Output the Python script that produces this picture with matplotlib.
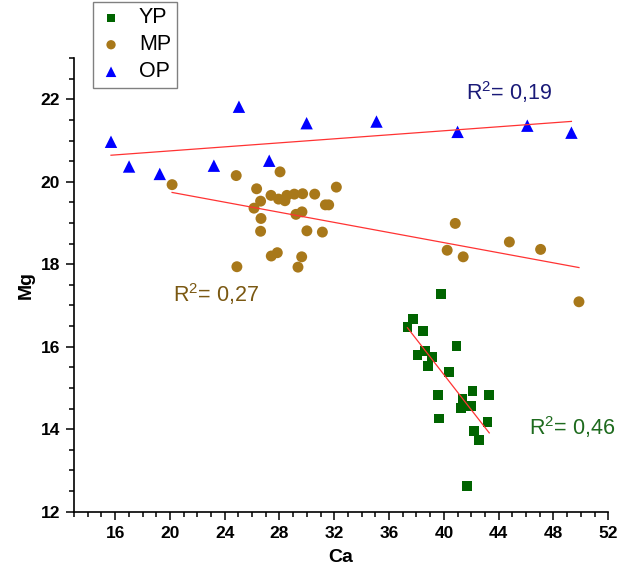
import numpy as np
import matplotlib.pyplot as plt
from matplotlib.ticker import MultipleLocator

plt.rcParams['font.family'] = ['Liberation Sans', 'DejaVu Sans']
plt.rcParams['mathtext.fontset'] = 'custom'
plt.rcParams['mathtext.rm'] = 'Liberation Sans'

# YP
yp_ca = [39.8, 37.73, 37.34, 38.49, 40.92, 38.08, 38.64, 39.15, 38.83, 40.39, 39.55,
         42.09, 43.31, 41.36, 42.0, 41.27, 39.62, 43.19, 42.17, 42.56, 41.66]
yp_mg = [17.28, 16.68, 16.47, 16.38, 16.01, 15.79, 15.90, 15.76, 15.53, 15.38, 14.82,
         14.93, 14.82, 14.74, 14.56, 14.51, 14.26, 14.18, 13.96, 13.74, 12.63]

# MP
mp_ca = [20.16, 24.84, 28.04, 26.33, 27.38, 26.62, 26.14, 27.93, 28.4, 28.54, 29.08,
         29.69, 30.57, 32.15, 31.35, 31.59, 29.2, 29.64, 26.65, 26.62, 30.0, 31.13,
         27.4, 27.84, 29.62, 29.35, 24.89,
         40.83, 40.24, 41.41, 44.78, 47.06, 49.86]
mp_mg = [19.93, 20.15, 20.24, 19.83, 19.67, 19.53, 19.36, 19.58, 19.54, 19.67, 19.70,
         19.71, 19.70, 19.87, 19.44, 19.44, 19.21, 19.27, 19.11, 18.80, 18.81, 18.78,
         18.20, 18.28, 18.18, 17.93, 17.94,
         18.99, 18.34, 18.18, 18.54, 18.36, 17.09]

# OP
op_ca = [15.70, 17.02, 19.26, 25.04, 23.21, 27.25, 29.98, 35.08, 41.0, 46.09, 49.31]
op_mg = [20.97, 20.37, 20.19, 21.82, 20.39, 20.51, 21.42, 21.46, 21.21, 21.36, 21.19]

r2_values = ['0,46', '0,27', '0,19']

fig = plt.figure(figsize=(6.24, 5.69), dpi=100)
ax = fig.add_axes([0.1186, 0.1007, 0.8562, 0.7973])

ax.scatter(yp_ca, yp_mg, marker='s', s=50, color='#006400', edgecolors='none', label='YP', zorder=2)
ax.scatter(mp_ca, mp_mg, marker='o', s=62, color='#a8781a', edgecolors='none', label='MP', zorder=2)
ax.scatter(op_ca, op_mg, marker='^', s=80, color='#0000ff', edgecolors='none', label='OP', zorder=2)

# linear fits
for xs, ys in [(yp_ca, yp_mg), (mp_ca, mp_mg), (op_ca, op_mg)]:
    k, b = np.polyfit(xs, ys, 1)
    xx = np.array([min(xs), max(xs)])
    ax.plot(xx, k * xx + b, color='#ff3333', lw=0.9, zorder=3)

def r2(v):
    return r'R$^\mathregular{2}$= ' + v

ax.text(46.21, 13.86, r2(r2_values[0]), color='#1e6b1e', fontsize=15.5)
ax.text(20.21, 17.09, r2(r2_values[1]), color='#7a5812', fontsize=15.5)
ax.text(41.63, 21.98, r2(r2_values[2]), color='#1a1a78', fontsize=15.5)

ax.set_xlim(13, 52)
ax.set_ylim(12, 23)
ax.xaxis.set_minor_locator(MultipleLocator(1))
ax.yaxis.set_major_locator(MultipleLocator(2))
ax.yaxis.set_minor_locator(MultipleLocator(0.5))
ax.set_xticks(range(16, 53, 4))

for s in ['top', 'right']:
    ax.spines[s].set_visible(False)
for s in ['left', 'bottom']:
    ax.spines[s].set_linewidth(1.2)

ax.tick_params(which='major', direction='out', length=6, width=1.1, pad=4, labelsize=12.5)
ax.tick_params(which='minor', direction='out', length=3.5, width=1.1)
for lab in ax.get_xticklabels() + ax.get_yticklabels():
    lab.set_fontweight('bold')

ax.set_xlabel('Ca', fontsize=14, fontweight='bold', labelpad=6)
ax.set_ylabel('Mg', fontsize=14, fontweight='bold', labelpad=4)

leg = fig.legend(loc='upper left', bbox_to_anchor=(0.1486, 0.9965), bbox_transform=fig.transFigure,
                 fontsize=15.5, frameon=True, fancybox=False, edgecolor='#808080', framealpha=1,
                 handlelength=1.2, handletextpad=0.7, borderpad=0.25, labelspacing=0.28,
                 borderaxespad=0, markerscale=0.85)
leg.get_frame().set_linewidth(1.0)

fig.savefig('out.png', dpi=100)
